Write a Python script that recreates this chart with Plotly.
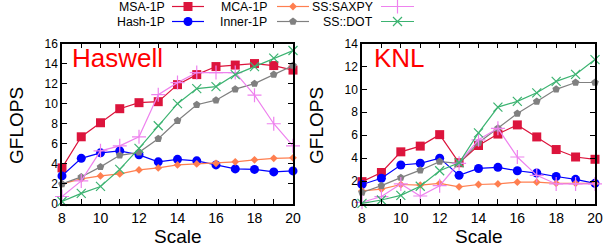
import plotly.graph_objects as go

scale = [8, 9, 10, 11, 12, 13, 14, 15, 16, 17, 18, 19, 20]
series_names = ["MSA-1P", "Hash-1P", "MCA-1P", "Inner-1P", "SS:SAXPY", "SS::DOT"]

haswell_msa = [3.6, 6.7, 8.1, 9.5, 10.1, 10.2, 11.9, 12.9, 13.7, 13.85, 14.0, 13.8, 13.35]
haswell_hash = [2.8, 4.55, 5.1, 5.3, 4.9, 4.2, 4.45, 4.3, 3.9, 3.5, 3.45, 3.2, 3.3]
haswell_mca = [2.0, 2.5, 2.8, 3.0, 3.4, 3.6, 3.9, 4.0, 4.05, 4.2, 4.4, 4.55, 4.6]
haswell_inner = [2.0, 2.7, 3.7, 4.85, 5.15, 6.5, 8.3, 9.9, 10.35, 11.45, 12.0, 12.9, 13.8]
haswell_saxpy = [0.75, 2.3, 5.3, 5.8, 6.7, 10.9, 12.1, 13.1, 13.1, 13.1, 10.85, 8.0, 5.8]
haswell_dot = [0.25, 1.06, 1.75, 3.45, 5.55, 7.8, 10.0, 11.5, 11.7, 12.9, 13.7, 14.55, 15.3]

knl_msa = [1.95, 2.75, 4.55, 5.05, 6.05, 3.6, 5.1, 6.1, 6.9, 5.85, 4.75, 4.1, 3.9]
knl_hash = [1.7, 2.25, 3.4, 3.55, 4.0, 2.5, 3.1, 3.2, 2.9, 2.7, 2.4, 2.15, 1.8]
knl_mca = [1.15, 1.3, 1.7, 1.65, 1.8, 1.5, 1.7, 1.75, 1.9, 1.9, 1.8, 1.8, 1.8]
knl_inner = [1.0, 1.6, 2.3, 2.95, 3.7, 3.55, 5.35, 6.6, 7.9, 8.95, 10.0, 10.6, 10.6]
knl_saxpy = [0.15, 0.65, 1.75, 0.7, 1.6, 3.55, 5.6, 6.6, 4.1, 2.5, 1.75, 1.75, 1.75]
knl_dot = [0.05, 0.35, 0.75, 1.55, 2.9, 3.6, 6.2, 8.45, 8.95, 9.7, 10.7, 11.3, 12.6]

haswell_vals = [haswell_msa, haswell_hash, haswell_mca, haswell_inner, haswell_saxpy, haswell_dot]
knl_vals = [knl_msa, knl_hash, knl_mca, knl_inner, knl_saxpy, knl_dot]

x_tick_vals = list(range(8, 21))
x_tick_text = [str(v) if v % 2 == 0 else "" for v in x_tick_vals]
haswell_y_ticks = [0, 2, 4, 6, 8, 10, 12, 14, 16]
knl_y_ticks = [0, 2, 4, 6, 8, 10, 12, 14]

colors = ["#dc143c", "#0000ff", "#ff7f50", "#808080", "#ee82ee", "#3cb371"]
symbols = ["square", "circle", "diamond", "pentagon", "cross-thin", "x-thin"]
msizes = [9, 9, 6, 8, 10, 9]

FONT = "Liberation Sans, Arial, sans-serif"
W, H = 615, 250
PLOT_TOP, PLOT_BOT = 43.5, 204
LEFT_X = (62, 293)
RIGHT_X = (362, 595)
LEG_H = 30  # legend strip height in px (top of figure)

def fx(px):
    return px / W

def fy(py):
    return 1 - py / H

fig = go.Figure()

for vals_list, xa, ya in [(haswell_vals, "x", "y"), (knl_vals, "x2", "y2")]:
    for i, vals in enumerate(vals_list):
        is_line_sym = symbols[i] in ("cross-thin", "x-thin")
        fig.add_trace(go.Scatter(
            x=scale, y=vals, mode="lines+markers",
            line=dict(color=colors[i], width=1.2),
            marker=dict(symbol=symbols[i], size=msizes[i], color=colors[i],
                        line=dict(color=colors[i], width=1.2 if is_line_sym else 0)),
            xaxis=xa, yaxis=ya, showlegend=False, cliponaxis=False,
            name=series_names[i],
        ))

# Custom gnuplot-style legend (text, then line sample with marker) in a top strip axis
legend_layout = [
    # (series index, text right edge px, sample start px, sample end px, row y px)
    (0, 167, 172, 204, 6.5),
    (2, 269, 277, 309, 6.5),
    (4, 375, 381, 414, 6.5),
    (1, 167, 172, 204, 21.5),
    (3, 269, 277, 309, 21.5),
    (5, 375, 381, 414, 21.5),
]
annotations = []
for idx, tx, s0, s1, ry in legend_layout:
    is_line_sym = symbols[idx] in ("cross-thin", "x-thin")
    fig.add_trace(go.Scatter(
        x=[s0, s1], y=[ry, ry], mode="lines",
        line=dict(color=colors[idx], width=1.2),
        xaxis="x3", yaxis="y3", showlegend=False, hoverinfo="skip", cliponaxis=False,
    ))
    fig.add_trace(go.Scatter(
        x=[(s0 + s1) / 2], y=[ry], mode="markers",
        marker=dict(symbol=symbols[idx], size=msizes[idx], color=colors[idx],
                    line=dict(color=colors[idx], width=1.2 if is_line_sym else 0)),
        xaxis="x3", yaxis="y3", showlegend=False, hoverinfo="skip", cliponaxis=False,
    ))
    annotations.append(dict(
        x=tx, y=ry, xref="x3", yref="y3", text=series_names[idx],
        showarrow=False, xanchor="right", yanchor="middle",
        font=dict(family=FONT, size=12.3, color="black"),
    ))

# Panel titles
annotations.append(dict(x=fx(70), y=fy(58), xref="paper", yref="paper", text="Haswell",
                        showarrow=False, xanchor="left", yanchor="middle",
                        font=dict(family=FONT, size=26, color="#ff0000")))
annotations.append(dict(x=fx(372), y=fy(58), xref="paper", yref="paper", text="KNL",
                        showarrow=False, xanchor="left", yanchor="middle",
                        font=dict(family=FONT, size=26, color="#ff0000")))
# Axis titles
for cx in (16, 316):
    annotations.append(dict(x=fx(cx), y=fy(126), xref="paper", yref="paper", text="GFLOPS",
                            showarrow=False, textangle=-90, xanchor="center", yanchor="middle",
                            font=dict(family=FONT, size=19, color="black")))
for cx in (sum(LEFT_X) / 2, sum(RIGHT_X) / 2):
    annotations.append(dict(x=fx(cx), y=fy(236), xref="paper", yref="paper", text="Scale",
                            showarrow=False, xanchor="center", yanchor="middle",
                            font=dict(family=FONT, size=19, color="black")))

axis_common = dict(
    showgrid=False, zeroline=False, showline=True, linecolor="black", linewidth=1.5,
    mirror="allticks", ticks="inside", ticklen=5, tickwidth=1, tickcolor="black",
)

fig.update_layout(
    width=W, height=H,
    margin=dict(l=0, r=0, t=0, b=0, pad=0, autoexpand=False),
    paper_bgcolor="white", plot_bgcolor="rgba(0,0,0,0)",
    showlegend=False,
    annotations=annotations,
    xaxis=dict(domain=[fx(LEFT_X[0]), fx(LEFT_X[1])], range=[8, 20],
               tickvals=x_tick_vals, ticktext=x_tick_text, anchor="y",
               tickfont=dict(family=FONT, size=14, color="black"), **axis_common),
    yaxis=dict(domain=[fy(PLOT_BOT), fy(PLOT_TOP)], range=[0, 16],
               tickvals=haswell_y_ticks, anchor="x",
               tickfont=dict(family=FONT, size=12, color="black"), **axis_common),
    xaxis2=dict(domain=[fx(RIGHT_X[0]), fx(RIGHT_X[1])], range=[8, 20],
                tickvals=x_tick_vals, ticktext=x_tick_text, anchor="y2",
                tickfont=dict(family=FONT, size=14, color="black"), **axis_common),
    yaxis2=dict(domain=[fy(PLOT_BOT), fy(PLOT_TOP)], range=[0, 14],
                tickvals=knl_y_ticks, anchor="x2",
                tickfont=dict(family=FONT, size=12, color="black"), **axis_common),
    xaxis3=dict(domain=[0, 1], range=[0, W], visible=False, fixedrange=True, anchor="y3"),
    yaxis3=dict(domain=[fy(LEG_H), 1], range=[LEG_H, 0], visible=False, fixedrange=True,
                anchor="x3"),
)

# Remove the browser's default page margin so the figure sits at the window's corner,
# and hide the interactive mode bar.
fig.write_html("out.html", config={"displayModeBar": False},
               post_script="document.body.style.margin='0px';")
